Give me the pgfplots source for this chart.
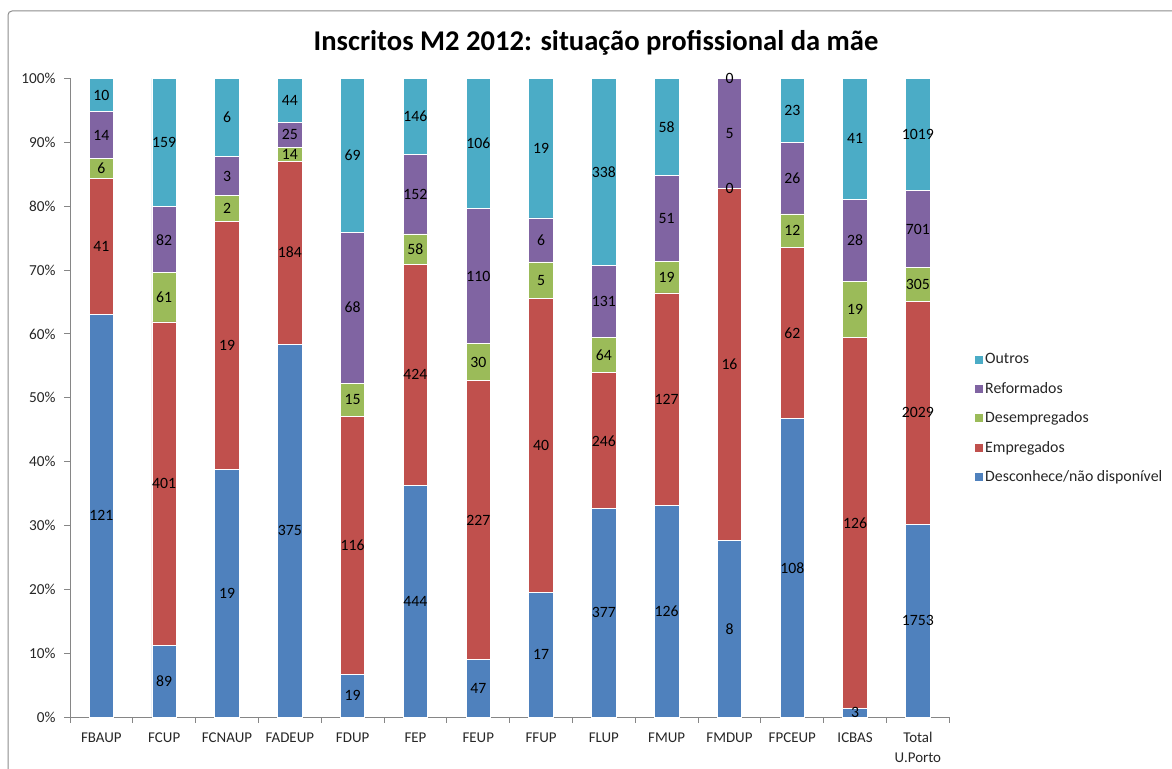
\documentclass[border=0pt]{standalone}
\usepackage{pgfplots}
\pgfplotsset{compat=1.18}
\usepackage{pgfplotstable}
\usepackage{fontspec}
\setmainfont{Carlito}
\definecolor{cD}{HTML}{4F81BD}
\definecolor{cE}{HTML}{C0504D}
\definecolor{cU}{HTML}{9BBB59}
\definecolor{cR}{HTML}{8064A2}
\definecolor{cO}{HTML}{4BACC6}
\definecolor{axisgray}{HTML}{868686}
\definecolor{framegray}{HTML}{8C8C8C}

% percentages (pX) and counts (cX) per faculty
\pgfplotstableread{
x  pD     cD    pE     cE    pU    cU   pR     cR   pO     cO
0  63.021 121   21.354 41    3.125 6    7.292  14   5.208  10
1  11.237 89    50.631 401   7.702 61   10.354 82   20.076 159
2  38.776 19    38.776 19    4.082 2    6.122  3    12.244 6
3  58.411 375   28.660 184   2.181 14   3.894  25   6.854  44
4  6.620  19    40.418 116   5.226 15   23.693 68   24.043 69
5  36.275 444   34.641 424   4.739 58   12.418 152  11.927 146
6  9.038  47    43.654 227   5.769 30   21.154 110  20.385 106
7  19.540 17    45.977 40    5.747 5    6.897  6    21.839 19
8  32.612 377   21.280 246   5.536 64   11.332 131  29.240 338
9  33.071 126   33.333 127   4.987 19   13.386 51   15.223 58
10 27.586 8     55.172 16    0     0    17.242 5    0      0
11 46.753 108   26.840 62    5.195 12   11.255 26   9.957  23
12 1.382  3     58.065 126   8.756 19   12.903 28   18.894 41
13 30.188 1753  34.941 2029  5.252 305  12.072 701  17.547 1019
}\data

% zero-height segments of FMDUP (Desempregados, Outros): position = cumulative %
\pgfplotstableread{
x  y       c
10 82.758  0
10 100     0
}\zeros

\begin{document}
\begin{tikzpicture}[x=1bp,y=1bp]
\path[use as bounding box] (0,0) rectangle (1172,769);
\draw[color=framegray, line width=1bp, rounded corners=4bp] (8,-20) -- (8,758) -- (1200,758);
\node[font=\bfseries\fontsize{28.7}{32}\selectfont, anchor=base, text=black] at (596,718.5) {Inscritos M2 2012: situação profissional da mãe};
\begin{axis}[
  at={(70bp,52bp)}, anchor=south west,
  scale only axis, width=879.3bp, height=638.5bp,
  ybar stacked, bar width=24.5bp,
  xmin=-0.5, xmax=13.5, ymin=0, ymax=100,
  clip=false,
  axis lines*=left,
  axis line style={color=axisgray, line width=0.8bp},
  tick align=outside,
  tick style={color=axisgray, line width=0.8bp},
  major tick length=6bp, minor tick length=6bp,
  xtick={0,...,13},
  xticklabels={FBAUP,FCUP,FCNAUP,FADEUP,FDUP,FEP,FEUP,FFUP,FLUP,FMUP,FMDUP,FPCEUP,ICBAS,{Total\\U.Porto}},
  major x tick style={draw=none},
  minor xtick={-0.5,0.5,...,13.5},
  ytick={0,10,...,100},
  yticklabel={\pgfmathprintnumber{\tick}\%},
  /pgf/number format/assume math mode=true,
  x tick label style={font=\fontsize{15}{20}\selectfont, align=center, text=black!85, yshift=-6bp},
  y tick label style={font=\fontsize{15.3}{18}\selectfont, text=black!85, xshift=-5bp},
  point meta=explicit symbolic,
  nodes near coords,
  every node near coord/.append style={font=\fontsize{15.8}{18}\selectfont, text=black, anchor=center},
  legend style={at={(axis description cs:1.0292,0.4675)}, anchor=west, draw=none, fill=none,
    font=\fontsize{15.9}{18}\selectfont, text=black!85, row sep=13bp, inner sep=0pt},
  legend cell align=left,
  reverse legend,
  legend image code/.code={\path[#1,draw=none] (0bp,-4bp) rectangle (8bp,4bp);},
]
\addplot[fill=cD, draw=white, line width=0.8bp] table[x=x, y=pD, meta=cD] {\data};
\addplot[fill=cE, draw=white, line width=0.8bp] table[x=x, y=pE, meta=cE] {\data};
\addplot[fill=cU, draw=white, line width=0.8bp] table[x=x, y=pU, meta=cU] {\data};
\addplot[fill=cR, draw=white, line width=0.8bp] table[x=x, y=pR, meta=cR] {\data};
\addplot[fill=cO, draw=white, line width=0.8bp] table[x=x, y=pO, meta=cO] {\data};
\legend{Desconhece/não disponível, Empregados, Desempregados, Reformados, Outros}
\addplot[forget plot, stack plots=false, sharp plot, draw=none, mark=none,
  visualization depends on={\thisrow{y} \as \zy},
  every node near coord/.append style={shift={(axis direction cs:0,\zy/2)}}] table[x=x, y=y, meta=c] {\zeros};
\end{axis}
\end{tikzpicture}
\end{document}
